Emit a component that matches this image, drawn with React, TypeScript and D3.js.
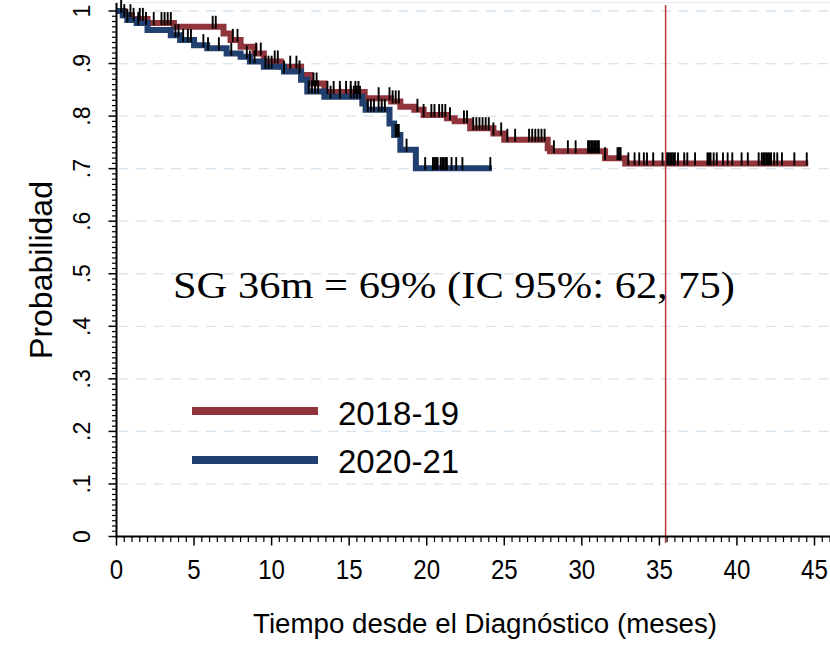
import React from 'react';
import * as d3 from 'd3';

// ---- data ----
const X_TICKS = [0, 5, 10, 15, 20, 25, 30, 35, 40, 45];
const Y_TICKS = [0, 0.1, 0.2, 0.3, 0.4, 0.5, 0.6, 0.7, 0.8, 0.9, 1];
const Y_TICK_LABELS = ['0', '.1', '.2', '.3', '.4', '.5', '.6', '.7', '.8', '.9', '1'];
const GRID_VALUES = [0.1, 0.2, 0.3, 0.4, 0.5, 0.6, 0.7, 0.8, 0.9, 1];

const SERIES_NAMES = ['2018-19', '2020-21'];

// 2018-19 step function (time in months, survival probability)
const RED_TIMES = [0, 0.5, 1.0, 2.0, 3.7, 6.9, 7.35, 8.0, 8.9, 9.5, 10.6, 11.9, 12.5, 13.4, 16.0, 17.7, 18.3, 19.2, 19.8, 21.3, 21.8, 22.8, 24.3, 25.0, 27.8, 27.95, 31.5, 32.8];
const RED_SURV = [1, 0.992, 0.985, 0.977, 0.970, 0.957, 0.945, 0.932, 0.919, 0.904, 0.894, 0.878, 0.862, 0.846, 0.834, 0.828, 0.818, 0.812, 0.802, 0.796, 0.790, 0.777, 0.767, 0.755, 0.739, 0.733, 0.720, 0.710];
const RED_END = 44.6;
const RED_CENSORED = [0.5, 0.9, 1.1, 1.5, 1.7, 2.4, 2.9, 3.1, 3.3, 3.5, 6.2, 6.4, 7.5, 7.8, 9.0, 9.3, 10.2, 10.4, 11.2, 11.6, 12.7, 12.9, 13.6, 14.0, 14.4, 14.8, 15.1, 15.4, 15.6,
  16.9, 17.6, 17.8, 18.0, 18.2, 19.4, 19.8, 20.3, 20.5, 20.8, 21.0, 21.2, 21.5, 22.4, 22.6, 23.0, 23.2, 23.4, 23.6, 23.8, 24.0, 24.3, 24.8, 25.2, 25.7,
  26.6, 26.8, 27.0, 27.2, 27.4, 27.6, 28.2, 29.1, 29.6, 30.4, 30.5, 30.6, 30.7, 30.8, 30.9, 31.0, 31.1, 31.5, 32.3, 32.4, 32.5,
  33.0, 33.4, 33.7, 34.0, 34.2, 34.6, 35.2, 35.5, 35.6, 35.7, 35.8, 35.9, 36.0, 36.2, 36.6, 36.8, 37.3, 38.1, 38.2, 38.3, 38.5, 38.7,
  39.1, 39.4, 39.7, 40.3, 40.7, 41.4, 41.6, 41.7, 41.8, 41.9, 42.0, 42.1, 42.2, 42.4, 42.6, 42.9, 43.7, 44.5];

// 2020-21 step function
const BLUE_TIMES = [0, 0.4, 0.7, 1.3, 2.0, 3.5, 4.1, 5.0, 5.85, 7.1, 8.0, 8.6, 9.5, 10.8, 11.9, 12.3, 13.4, 15.85, 16.06, 17.6, 17.9, 18.3, 19.3];
const BLUE_SURV = [1, 0.992, 0.983, 0.977, 0.964, 0.954, 0.945, 0.935, 0.929, 0.919, 0.913, 0.904, 0.894, 0.885, 0.869, 0.847, 0.837, 0.824, 0.812, 0.786, 0.764, 0.736, 0.701];
const BLUE_END = 24.2;
const BLUE_CENSORED = [0.3, 0.7, 1.4, 1.9, 3.8, 4.0, 4.3, 4.6, 4.8, 5.6, 5.9, 6.6, 7.4, 8.4, 8.6, 8.9, 9.6, 9.8, 10.0, 10.8, 11.8, 12.4, 12.6, 12.8, 13.0,
  13.8, 14.4, 15.1, 15.3, 15.5, 15.7, 16.2, 16.4, 16.6, 16.9, 17.1, 17.3, 18.0, 18.1, 18.2, 18.7, 19.9, 20.4, 20.5, 20.6, 20.7,
  20.9, 21.0, 21.1, 21.2, 21.3, 21.6, 21.9, 22.3, 24.1];

const REF_LINE_MONTH = 35.4;
const ANNOTATION = 'SG 36m = 69% (IC 95%: 62, 75)';
const X_TITLE = 'Tiempo desde el Diagnóstico (meses)';
const Y_TITLE = 'Probabilidad';

const RED = '#90353b';
const BLUE = '#22406f';
const SANS = '"Liberation Sans", Arial, sans-serif';
const SERIF = '"Liberation Serif", "Times New Roman", serif';

export default function App() {
  const W = 830, H = 646;
  const x = d3.scaleLinear().domain([0, 45]).range([116.5, 814.5]);
  const y = d3.scaleLinear().domain([0, 1]).range([536.5, 11]);
  const axisX = 116.5, axisY = 536.5, rightEdge = 830;

  const stepPath = (times: number[], surv: number[], end: number) => {
    const pts: [number, number][] = times.map((t, i) => [t, surv[i]]);
    pts.push([end, surv[surv.length - 1]]);
    return d3.line<[number, number]>().x(d => x(d[0])).y(d => y(d[1])).curve(d3.curveStepAfter)(pts) || '';
  };
  const survAt = (times: number[], surv: number[], t: number) => {
    let s = surv[0];
    for (let i = 0; i < times.length; i++) if (times[i] <= t) s = surv[i];
    return s;
  };

  const xMinor = d3.range(0, 46.01, 0.5).filter(v => Math.abs(v % 5) > 1e-6);
  const yMinor = d3.range(0, 100).map(i => i / 100).filter(v => Math.round(v * 100) % 10 !== 0);

  const censorMarks = (times: number[], surv: number[], cens: number[]) =>
    cens.map((t, i) => {
      const s = survAt(times, surv, t);
      return <line key={i} x1={x(t)} x2={x(t)} y1={y(s) + 2} y2={y(s) - 11} stroke="#000" strokeWidth={1.9} />;
    });

  return (
    <svg width={W} height={H} style={{ position: 'absolute', left: 0, top: 0, background: '#fff' }}>
      <rect x={0} y={0} width={W} height={H} fill="#fff" />
      {/* top frame line */}
      <line x1={axisX} x2={rightEdge} y1={2.5} y2={2.5} stroke="#e4ebf1" strokeWidth={1.2} />
      {/* grid */}
      {GRID_VALUES.map(v => (
        <line key={v} x1={axisX + 2} x2={rightEdge} y1={y(v)} y2={y(v)} stroke="#d8e3ec" strokeWidth={1.3} strokeDasharray="10,7.5" />
      ))}
      {/* reference vertical line */}
      <line x1={x(REF_LINE_MONTH)} x2={x(REF_LINE_MONTH)} y1={5} y2={543} stroke="#c03a3a" strokeWidth={1.5} />
      {/* curves */}
      <path d={stepPath(RED_TIMES, RED_SURV, RED_END)} fill="none" stroke={RED} strokeWidth={6} />
      <path d={stepPath(BLUE_TIMES, BLUE_SURV, BLUE_END)} fill="none" stroke={BLUE} strokeWidth={6} />
      {censorMarks(RED_TIMES, RED_SURV, RED_CENSORED)}
      {censorMarks(BLUE_TIMES, BLUE_SURV, BLUE_CENSORED)}
      {/* axes */}
      <line x1={axisX} x2={axisX} y1={3} y2={axisY + 1} stroke="#000" strokeWidth={2} />
      <line x1={axisX - 1} x2={rightEdge} y1={axisY} y2={axisY} stroke="#000" strokeWidth={2} />
      {yMinor.map(v => (
        <line key={'ym' + v} x1={axisX - 4.5} x2={axisX} y1={y(v)} y2={y(v)} stroke="#000" strokeWidth={1.2} />
      ))}
      {Y_TICKS.map((v, i) => (
        <g key={'yt' + v}>
          <line x1={axisX - 8} x2={axisX} y1={y(v)} y2={y(v)} stroke="#000" strokeWidth={1.5} />
          <text transform={`translate(90,${y(v)}) rotate(-90)`} textAnchor="middle" fontFamily={SANS} fontSize={23} fill="#000">{Y_TICK_LABELS[i]}</text>
        </g>
      ))}
      {xMinor.map(v => (
        <line key={'xm' + v} x1={x(v)} x2={x(v)} y1={axisY} y2={axisY + 5.5} stroke="#000" strokeWidth={1.2} />
      ))}
      {X_TICKS.map(v => (
        <g key={'xt' + v}>
          <line x1={x(v)} x2={x(v)} y1={axisY} y2={axisY + 9} stroke="#000" strokeWidth={1.5} />
          <text transform={`translate(${x(v)},579) scale(0.86,1)`} textAnchor="middle" fontFamily={SANS} fontSize={28} fill="#000">{v}</text>
        </g>
      ))}
      {/* titles */}
      <text x={485} y={633} textAnchor="middle" fontFamily={SANS} fontSize={27} textLength={464} lengthAdjust="spacingAndGlyphs" fill="#000">{X_TITLE}</text>
      <text transform="translate(52,270) rotate(-90)" textAnchor="middle" fontFamily={SANS} fontSize={32} fill="#000">{Y_TITLE}</text>
      {/* annotation */}
      <text x={173} y={298} fontFamily={SERIF} fontSize={38} textLength={562} lengthAdjust="spacingAndGlyphs" fill="#000">{ANNOTATION}</text>
      {/* legend */}
      <line x1={192} x2={318} y1={411} y2={411} stroke={RED} strokeWidth={8} />
      <line x1={192} x2={318} y1={460} y2={460} stroke={BLUE} strokeWidth={8} />
      <text x={338} y={425} fontFamily={SANS} fontSize={33} fill="#000">{SERIES_NAMES[0]}</text>
      <text x={338} y={473} fontFamily={SANS} fontSize={33} fill="#000">{SERIES_NAMES[1]}</text>
    </svg>
  );
}
